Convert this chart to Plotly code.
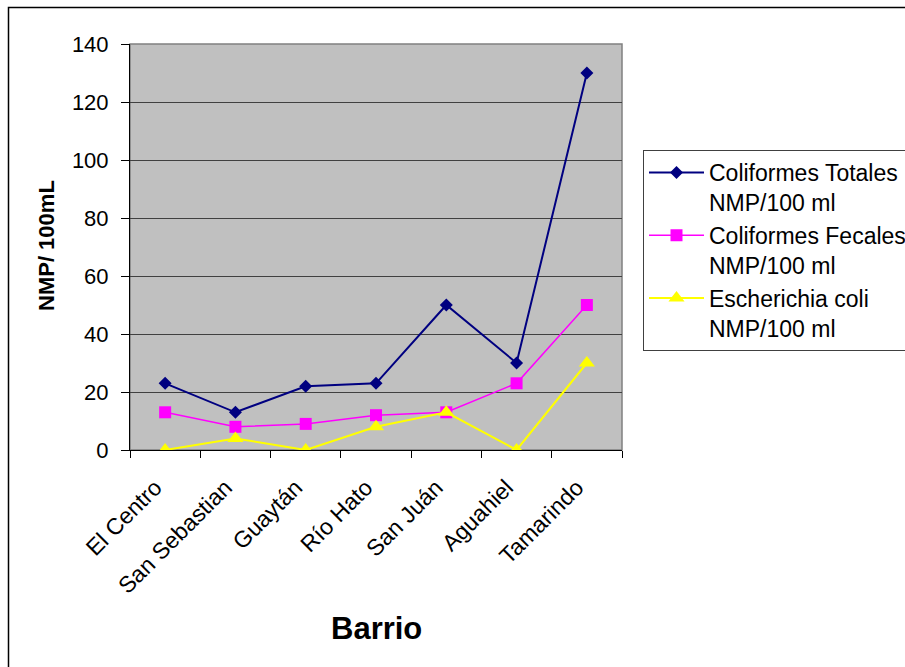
import plotly.graph_objects as go

# Sampling sites (barrios) and bacterial counts, NMP per 100 ml
barrios = ["El Centro", "San Sebastian", "Guaytán", "Río Hato", "San Juán", "Aguahiel", "Tamarindo"]
coliformes_totales = [23, 13, 22, 23, 50, 30, 130]
coliformes_fecales = [13, 8, 9, 12, 13, 23, 50]
e_coli = [0, 4, 0, 8, 13, 0, 30]
y_ticks = [0, 20, 40, 60, 80, 100, 120, 140]

FONT = "Arial, Liberation Sans, sans-serif"

fig = go.Figure()
fig.add_trace(go.Scatter(
    x=barrios, y=coliformes_totales, mode="lines+markers",
    name="Coliformes Totales<br>NMP/100 ml",
    line=dict(color="#000080", width=2),
    marker=dict(symbol="diamond", size=10, color="#000080"),
))
fig.add_trace(go.Scatter(
    x=barrios, y=coliformes_fecales, mode="lines+markers",
    name="Coliformes Fecales<br>NMP/100 ml",
    line=dict(color="#FF00FF", width=1.5),
    marker=dict(symbol="square", size=12, color="#FF00FF"),
))
fig.add_trace(go.Scatter(
    x=barrios, y=e_coli, mode="lines+markers",
    name="Escherichia coli<br>NMP/100 ml",
    line=dict(color="#FFFF00", width=2),
    marker=dict(symbol="triangle-up", size=14, color="#FFFF00"),
))

L, R, T, B = 130, 622, 44, 450
W, H = 905, 667
pw, ph = R - L, B - T

def px(x):
    return (x - L) / pw

def py(y):
    return (B - y) / ph

fig.update_layout(
    width=W, height=H,
    margin=dict(l=L, r=W - R, t=T, b=H - B, autoexpand=False),
    paper_bgcolor="white",
    plot_bgcolor="#C0C0C0",
    font=dict(family=FONT, size=22, color="black"),
    showlegend=True,
    legend=dict(
        x=px(643), y=py(150), xanchor="left", yanchor="top",
        bordercolor="#404040", borderwidth=1, bgcolor="white",
        font=dict(family=FONT, size=23, color="black"),
        itemwidth=55, valign="top",
    ),
    xaxis=dict(
        type="category", tickangle=-45, tickson="boundaries",
        ticks="outside", ticklen=7, tickcolor="black",
        showline=True, linecolor="black", linewidth=1,
        showgrid=False, zeroline=False, range=[-0.5, 6.5],
        tickfont=dict(size=23), ticklabelstandoff=14, ticklabelshift=-10,
    ),
    yaxis=dict(
        range=[0, 140], tickvals=y_ticks,
        ticks="outside", ticklen=8, tickcolor="black",
        showline=True, linecolor="black", linewidth=1,
        showgrid=True, gridcolor="#404040", gridwidth=1,
        zeroline=False, tickfont=dict(size=22), ticklabelstandoff=8,
    ),
    shapes=[
        # light frame on the top and right of the plotting area
        dict(type="rect", xref="paper", yref="paper", x0=0, x1=1, y0=0, y1=1,
             line=dict(color="#808080", width=1.5), layer="below"),
        # outer chart frame
        dict(type="rect", xref="paper", yref="paper",
             x0=px(8.5), x1=px(915), y0=py(680), y1=py(7.5),
             line=dict(color="black", width=1.5)),
    ],
    annotations=[
        dict(text="<b>Barrio</b>", xref="paper", yref="paper",
             x=0.5, y=py(628), xanchor="center", yanchor="middle",
             showarrow=False, font=dict(family=FONT, size=31)),
        dict(text="<b>NMP/ 100mL</b>", xref="paper", yref="paper",
             x=px(47), y=py(246), xanchor="center", yanchor="middle",
             textangle=-90, showarrow=False, font=dict(family=FONT, size=22)),
    ],
)

fig.write_html("out.html")
